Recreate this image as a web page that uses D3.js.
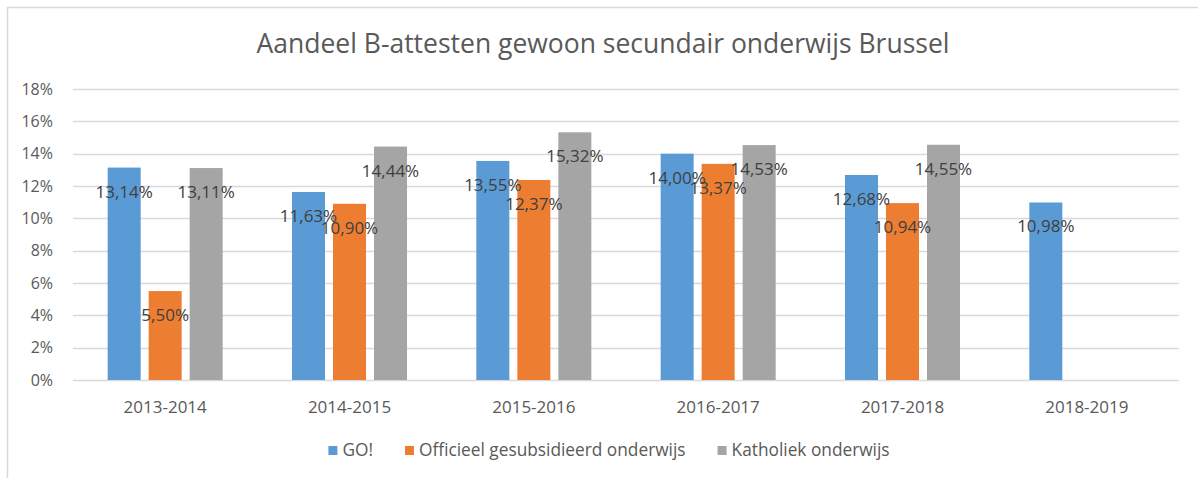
<!DOCTYPE html>
<html>
<head>
<meta charset="utf-8">
<script src="https://cdn.jsdelivr.net/npm/d3@7"></script>
<style>
  html, body { margin: 0; padding: 0; background: #fff; }
  svg { display: block; font-family: "Open Sans", "Noto Sans", sans-serif; }
</style>
</head>
<body>
<svg id="chart" width="1198" height="478"></svg>
<script>
// School years on the category axis
const years = ["2013-2014", "2014-2015", "2015-2016", "2016-2017", "2017-2018", "2018-2019"];

// Share of B-certificates (%) per education network
const seriesNames = ["GO!", "Officieel gesubsidieerd onderwijs", "Katholiek onderwijs"];
const goValues = [13.14, 11.63, 13.55, 14.00, 12.68, 10.98];
const officieelValues = [5.50, 10.90, 12.37, 13.37, 10.94, null];
const katholiekValues = [13.11, 14.44, 15.32, 14.53, 14.55, null];
const seriesColors = ["#5b9bd5", "#ed7d31", "#a5a5a5"];

// Value axis ticks
const yTicks = [0, 2, 4, 6, 8, 10, 12, 14, 16, 18];

const title = "Aandeel B-attesten gewoon secundair onderwijs Brussel";

const seriesValues = [goValues, officieelValues, katholiekValues];

const svg = d3.select("#chart");
const W = 1198, H = 478;

// outer chart frame (left and top edges)
svg.append("line").attr("x1", 7.5).attr("x2", 7.5).attr("y1", 7).attr("y2", H)
  .attr("stroke", "#d9d9d9").attr("stroke-width", 1.5);
svg.append("line").attr("x1", 7).attr("x2", W).attr("y1", 7.5).attr("y2", 7.5)
  .attr("stroke", "#d9d9d9").attr("stroke-width", 1.5);

const plot = { left: 73, right: 1179, top: 89, bottom: 380 };

const x0 = d3.scaleBand()
  .domain(years)
  .range([plot.left, plot.right])
  .paddingInner(0.376)
  .paddingOuter(0.188);

const x1 = d3.scaleBand()
  .domain(d3.range(seriesNames.length))
  .range([0, x0.bandwidth()])
  .paddingInner(0.195)
  .paddingOuter(0);

const y = d3.scaleLinear()
  .domain([0, 18])
  .range([plot.bottom, plot.top]);

// horizontal gridlines
svg.append("g")
  .selectAll("line")
  .data(yTicks)
  .join("line")
  .attr("x1", plot.left)
  .attr("x2", plot.right)
  .attr("y1", d => Math.round(y(d)) + 0.5)
  .attr("y2", d => Math.round(y(d)) + 0.5)
  .attr("stroke", "#d9d9d9")
  .attr("stroke-width", 1.5);

// y axis labels
const yAxis = d3.axisLeft(y)
  .tickValues(yTicks)
  .tickFormat(d => d + "%")
  .tickSize(0)
  .tickPadding(0);
const gy = svg.append("g")
  .attr("transform", `translate(53,0)`)
  .call(yAxis);
gy.select(".domain").remove();
gy.selectAll("text")
  .attr("fill", "#595959")
  .style("font-size", "16px")
  .style("font-family", "'Open Sans', sans-serif");

// x axis labels
const xAxis = d3.axisBottom(x0).tickSize(0).tickPadding(0);
const gx = svg.append("g")
  .attr("transform", `translate(0,${plot.bottom})`)
  .call(xAxis);
gx.select(".domain").remove();
gx.selectAll("text")
  .attr("fill", "#595959")
  .attr("dy", null)
  .attr("y", 33)
  .style("font-size", "17px")
  .style("font-family", "'Open Sans', sans-serif");

// bar data
const barData = [];
years.forEach((yr, i) => {
  seriesValues.forEach((vals, s) => {
    if (vals[i] != null) barData.push({ year: yr, s, v: vals[i] });
  });
});

svg.append("g")
  .selectAll("rect")
  .data(barData)
  .join("rect")
  .attr("x", d => x0(d.year) + x1(d.s))
  .attr("width", x1.bandwidth())
  .attr("y", d => y(d.v))
  .attr("height", d => y(0) - y(d.v))
  .attr("fill", d => seriesColors[d.s]);

// data labels inside the bar tops
const fmt = v => v.toFixed(2).replace(".", ",") + "%";
svg.append("g")
  .selectAll("text")
  .data(barData)
  .join("text")
  .attr("x", d => x0(d.year) + x1(d.s) + x1.bandwidth() / 2)
  .attr("y", d => y(d.v) + 30)
  .attr("text-anchor", "middle")
  .attr("fill", "#404040")
  .style("font-size", "17px")
  .text(d => fmt(d.v));

// title
svg.append("text")
  .attr("x", 603)
  .attr("y", 53)
  .attr("text-anchor", "middle")
  .attr("fill", "#595959")
  .style("font-size", "26.5px")
  .text(title);

// legend
const legend = svg.append("g");
const items = legend.selectAll("g")
  .data(seriesNames)
  .join("g");
items.append("rect")
  .attr("width", 9).attr("height", 9)
  .attr("y", 446)
  .attr("fill", (d, i) => seriesColors[i]);
items.append("text")
  .attr("x", 14)
  .attr("y", 456)
  .attr("fill", "#595959")
  .style("font-size", "17.3px")
  .text(d => d);
// lay out legend entries side by side, centered
const gap = 32;
const widths = [];
items.each(function () { widths.push(this.getBBox().width); });
const total = d3.sum(widths) + gap * (widths.length - 1);
let cx = 609 - total / 2;
items.each(function (d, i) {
  d3.select(this).attr("transform", `translate(${cx},0)`);
  cx += widths[i] + gap;
});
</script>
</body>
</html>
